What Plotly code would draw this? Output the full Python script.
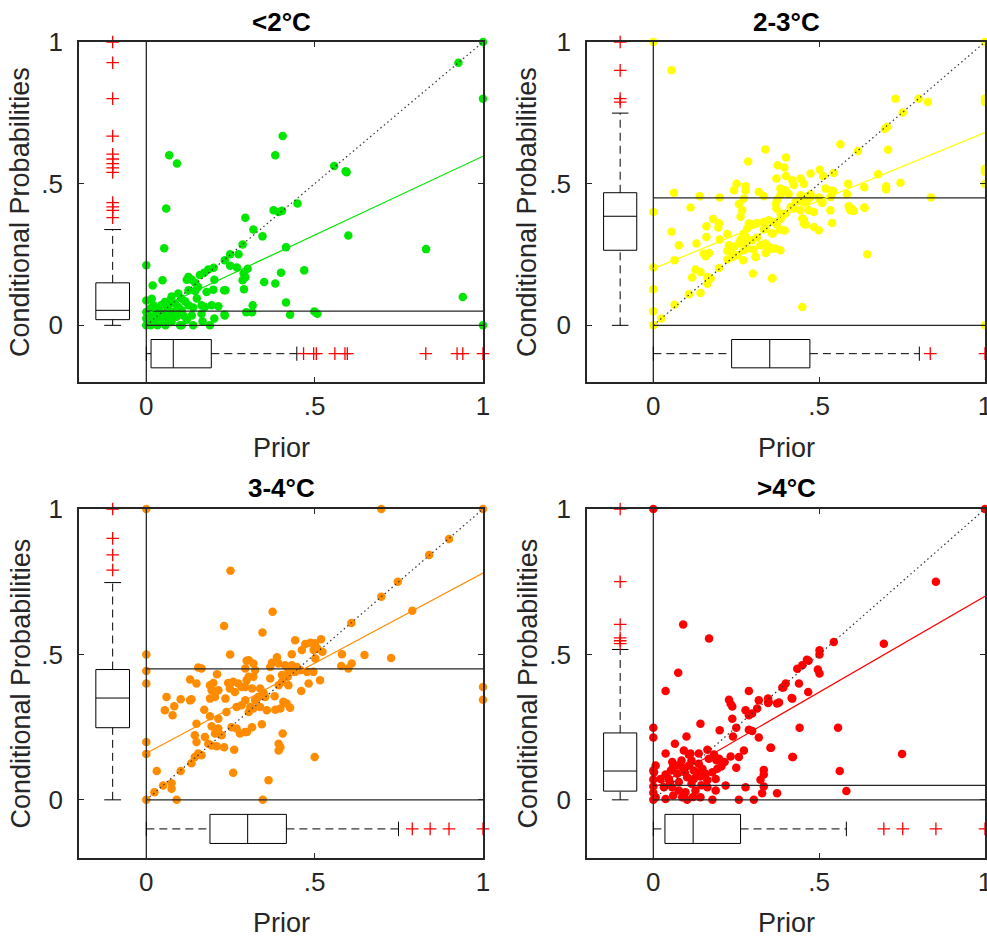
import plotly.graph_objects as go

# ---------------- data ----------------
TITLES = ['<2°C', '2-3°C', '3-4°C', '>4°C']
COLORS = ['#00e600', '#ffff00', '#ff8c00', '#ff0000']
X_LABEL = 'Prior'
Y_LABEL = 'Conditional Probabilities'
TICK_VALS = [0, 0.5, 1]
TICK_TEXT = ['0', '.5', '1']

# (prior, conditional probability) pairs
P1_PTS = [
    (1.0, 1.0), (0.927, 0.927), (1.0, 0.80), (1.0, 0.0),
    (0.405, 0.668), (0.383, 0.60), (0.068, 0.60), (0.091, 0.571), (0.558, 0.562), (0.592, 0.544), (0.595, 0.54),
    (0.449, 0.43), (0.378, 0.406), (0.393, 0.40), (0.403, 0.404), (0.059, 0.412),
    (0.294, 0.38), (0.318, 0.338), (0.345, 0.314), (0.60, 0.317), (0.415, 0.276), (0.831, 0.269), (0.053, 0.272), (0.286, 0.285),
    (0.249, 0.251), (0.274, 0.251), (0.233, 0.23), (0.249, 0.21), (0.269, 0.204), (0.301, 0.2), (0.469, 0.194), (0.40, 0.186),
    (0.289, 0.183), (0.294, 0.17), (0.286, 0.159), (0.94, 0.10),
    (0.2, 0.203), (0.184, 0.197), (0.172, 0.186), (0.159, 0.178), (0.125, 0.171), (0.135, 0.161), (0.12, 0.161), (0.145, 0.15), (0.202, 0.161),
    (0.35, 0.153), (0.383, 0.148), (0.019, 0.141), (0.048, 0.159), (0.0, 0.212),
    (0.231, 0.124), (0.29, 0.127), (0.235, 0.124), (0.154, 0.135), (0.125, 0.124), (0.145, 0.121), (0.179, 0.118), (0.199, 0.126),
    (0.095, 0.112), (0.075, 0.102), (0.105, 0.094), (0.055, 0.082), (0.07, 0.088), (0.085, 0.077),
    (0.0, 0.088), (0.016, 0.094), (0.021, 0.071), (0.044, 0.071), (0.031, 0.059), (0.011, 0.059), (0.0, 0.047),
    (0.125, 0.071), (0.139, 0.063), (0.164, 0.071), (0.174, 0.065), (0.194, 0.071), (0.214, 0.067), (0.164, 0.041),
    (0.105, 0.053), (0.075, 0.041), (0.055, 0.035), (0.036, 0.032), (0.016, 0.029), (0.0, 0.024),
    (0.006, 0.012), (0.026, 0.012), (0.05, 0.012), (0.075, 0.012),
    (0.105, 0.0), (0.139, 0.0), (0.189, 0.0), (0.202, 0.024), (0.233, 0.035), (0.135, 0.035),
    (0.0, 0.0), (0.013, 0.0), (0.033, 0.0), (0.057, 0.0),
    (0.415, 0.081), (0.316, 0.071), (0.297, 0.046), (0.314, 0.046), (0.427, 0.037), (0.499, 0.049), (0.508, 0.041),
    (0.232, 0.038), (0.167, 0.014), (0.10, 0.0),
    (0.09, 0.03), (0.12, 0.02), (0.045, 0.02), (0.065, 0.06), (0.095, 0.065), (0.115, 0.085), (0.15, 0.095),
    (0.03, 0.045), (0.06, 0.025), (0.085, 0.05), (0.11, 0.035), (0.02, 0.005), (0.04, 0.05),
]

P2_PTS = [
    (0, 1), (1, 1), (0.055, 0.90), (0.73, 0.80), (0.80, 0.80), (0.828, 0.788), (1, 0.80), (1, 0.788), (0.752, 0.751),
    (0.698, 0.694), (0.705, 0.70), (0.708, 0.62), (0.617, 0.615), (0.564, 0.639), (0.338, 0.621), (0.40, 0.592),
    (0.286, 0.578), (0.375, 0.565), (0.395, 0.557), (0.544, 0.538), (0.678, 0.533), (1, 0.553), (1, 0.541), (1, 0.50),
    (0.502, 0.549), (0.512, 0.527), (0.474, 0.536), (0.371, 0.518), (0.40, 0.527), (0.419, 0.512), (0.444, 0.518),
    (0.454, 0.50), (0.424, 0.495), (0.251, 0.50), (0.278, 0.491), (0.243, 0.477), (0.278, 0.477), (0.062, 0.468),
    (0.14, 0.456), (0.20, 0.451), (0.318, 0.471), (0.333, 0.456), (0.273, 0.448), (0.587, 0.50), (0.636, 0.487),
    (0.584, 0.463), (0.702, 0.491), (0.702, 0.48), (0.745, 0.503), (0.837, 0.451), (0.519, 0.483), (0.539, 0.475),
    (0.534, 0.453), (0.509, 0.432), (0.383, 0.483), (0.398, 0.477), (0.408, 0.463), (0.383, 0.459), (0.373, 0.442),
    (0.444, 0.459), (0.464, 0.456), (0.474, 0.463), (0.499, 0.451), (0.429, 0.436), (0.449, 0.436), (0.464, 0.442),
    (0.414, 0.418), (0.424, 0.412), (0.444, 0.406), (0.469, 0.406), (0.484, 0.40), (0.449, 0.377), (0.454, 0.359),
    (0.534, 0.406), (0.539, 0.361), (0.589, 0.42), (0.594, 0.406), (0.604, 0.404), (0.636, 0.416), (0.484, 0.347),
    (0.499, 0.336), (0.645, 0.251), (0.112, 0.416), (0, 0.40), (0.258, 0.428), (0.268, 0.406), (0.263, 0.383),
    (0.37, 0.429), (0.371, 0.412), (0.384, 0.394), (0.398, 0.394), (0.18, 0.375), (0.198, 0.36), (0.196, 0.345),
    (0.16, 0.35), (0.055, 0.33), (0.16, 0.312), (0.20, 0.303), (0.223, 0.322), (0.077, 0.283), (0.13, 0.289),
    (0.152, 0.253), (0.168, 0.255), (0.158, 0.244), (0.064, 0.23), (0, 0.204), (0.198, 0.202), (0.127, 0.197),
    (0.142, 0.188), (0.117, 0.169), (0.163, 0.171), (0.173, 0.165), (0.163, 0.147), (0.223, 0.232), (0.238, 0.241),
    (0.253, 0.247), (0.271, 0.23), (0.30, 0.183), (0.107, 0.11), (0.142, 0.114), (0.064, 0.073), (0, 0.127),
    (0, 0.05), (0.024, 0.024), (0, 0), (1, 0), (0.358, 0.324), (0.339, 0.342), (0.358, 0.365), (0.228, 0.283),
    (0.243, 0.277), (0.258, 0.289), (0.278, 0.291), (0.298, 0.30), (0.313, 0.31), (0.323, 0.283), (0.338, 0.289),
    (0.348, 0.277), (0.223, 0.263), (0.243, 0.247), (0.273, 0.265), (0.283, 0.271), (0.303, 0.267), (0.308, 0.241),
    (0.339, 0.255), (0.358, 0.271), (0.273, 0.324), (0.283, 0.342), (0.278, 0.312), (0.263, 0.303), (0.358, 0.165),
    (0.368, 0.271), (0.383, 0.265), (0.449, 0.065), (0.288, 0.359), (0.303, 0.356), (0.313, 0.361), (0.333, 0.365),
    (0.348, 0.371), (0.372, 0.356), (0.384, 0.376), (0.333, 0.338), (0.36, 0.324), (0.382, 0.338), (0.396, 0.335),
    (0.459, 0.356), (0.454, 0.373), (0.535, 0.455), (0.542, 0.474), (0.51, 0.435), (0.474, 0.453), (0.46, 0.435),
    (0.637, 0.415), (0.597, 0.412), (0.341, 0.259), (0.309, 0.241), (0.359, 0.167),
]

P3_PTS = [
    (0, 1), (0.698, 1), (1, 1), (0.899, 0.897), (0.84, 0.842), (0.747, 0.75), (0.698, 0.698), (0.79, 0.65),
    (0.609, 0.608), (0.25, 0.788), (0.375, 0.647), (0.231, 0.598), (0.345, 0.575), (0.249, 0.50), (0, 0.50),
    (0, 0.443), (0, 0.40), (0.442, 0.549), (0.472, 0.536), (0.487, 0.54), (0.501, 0.538), (0.519, 0.552),
    (0.497, 0.515), (0.507, 0.521), (0.462, 0.515), (0.432, 0.501), (0.523, 0.509), (0.502, 0.486), (0.581, 0.501),
    (0.61, 0.469), (0.60, 0.452), (0.648, 0.498), (0.579, 0.46), (0.727, 0.488), (0.388, 0.49), (0.373, 0.471),
    (0.368, 0.457), (0.393, 0.469), (0.304, 0.48), (0.318, 0.469), (0.294, 0.452), (0.323, 0.446), (0.304, 0.423),
    (0.318, 0.423), (0.412, 0.463), (0.432, 0.463), (0.447, 0.457), (0.422, 0.446), (0.442, 0.44), (0.457, 0.446),
    (0.477, 0.44), (0.496, 0.44), (0.368, 0.417), (0.403, 0.429), (0.42, 0.423), (0.422, 0.394), (0.403, 0.406),
    (0.482, 0.40), (0.516, 0.411), (0.46, 0.374), (0.294, 0.388), (0.314, 0.383), (0.338, 0.383), (0.348, 0.368),
    (0.333, 0.354), (0.323, 0.342), (0.353, 0.354), (0.381, 0.356), (0.393, 0.394), (0.294, 0.342), (0.309, 0.319),
    (0.318, 0.314), (0.304, 0.302), (0.338, 0.319), (0.358, 0.308), (0.383, 0.31), (0.398, 0.314), (0.407, 0.337),
    (0.417, 0.331), (0.427, 0.317), (0.314, 0.25), (0.299, 0.233), (0.343, 0.26), (0.405, 0.228), (0.393, 0.193),
    (0.398, 0.181), (0.393, 0.17), (0.50, 0.147), (0.363, 0.067), (0.346, 0), (1, 0.388), (1, 0.344),
    (0.298, 0.478), (0.154, 0.455), (0.164, 0.452), (0.21, 0.432), (0.13, 0.414), (0.149, 0.40), (0.189, 0.394),
    (0.199, 0.402), (0.194, 0.377), (0.214, 0.377), (0.189, 0.348), (0.204, 0.354), (0.243, 0.402), (0.258, 0.406),
    (0.273, 0.40), (0.283, 0.388), (0.298, 0.411), (0.248, 0.383), (0.263, 0.371), (0.235, 0.348), (0.06, 0.354),
    (0.102, 0.346), (0.13, 0.342), (0.134, 0.346), (0.055, 0.308), (0.083, 0.322), (0.078, 0.291), (0.172, 0.31),
    (0.189, 0.287), (0.214, 0.279), (0.238, 0.302), (0.268, 0.319), (0.283, 0.325), (0.149, 0.262), (0.194, 0.253),
    (0.204, 0.228), (0.224, 0.222), (0.214, 0.245), (0.253, 0.25), (0.268, 0.245), (0.278, 0.228), (0.293, 0.233),
    (0.144, 0.222), (0.149, 0.199), (0.174, 0.216), (0.184, 0.193), (0.194, 0.187), (0.209, 0.184), (0.231, 0.181),
    (0.261, 0.172), (0, 0.199), (0, 0.158), (0.154, 0.159), (0.164, 0.153), (0.144, 0.147), (0.134, 0.126),
    (0.031, 0.099), (0.102, 0.099), (0.075, 0.057), (0.075, 0.038), (0.05, 0.049), (0.024, 0.026), (0, 0),
    (0.09, 0), (0.258, 0.093),
]

P4_PTS = [
    (0, 1), (1, 1), (0.852, 0.75), (0.09, 0.603), (0.168, 0.555), (0.544, 0.543), (0.695, 0.537), (0.501, 0.514),
    (0.501, 0.50), (0.463, 0.482), (0.468, 0.478), (0.496, 0.448), (0.501, 0.434), (0.434, 0.451), (0.075, 0.437),
    (0.399, 0.40), (0.392, 0.386), (0.439, 0.40), (0.467, 0.371), (0.037, 0.374), (0.288, 0.374), (0.228, 0.344),
    (0.233, 0.33), (0.238, 0.321), (0.346, 0.348), (0.346, 0.333), (0.379, 0.335), (0.417, 0.35), (0.278, 0.308),
    (0.288, 0.291), (0.298, 0.297), (0.313, 0.314), (0.318, 0.342), (0.348, 0.336), (0.373, 0.331), (0.389, 0.386),
    (0.419, 0.348), (0.449, 0.463), (0.238, 0.279), (0.25, 0.248), (0.24, 0.218), (0.2, 0.239), (0.288, 0.241),
    (0.298, 0.237), (0.318, 0.214), (0.353, 0.179), (0.419, 0.147), (0.441, 0.248), (0.557, 0.248), (0.233, 0.149),
    (0.258, 0.147), (0.273, 0.17), (0.25, 0.11), (0.333, 0.103), (0.333, 0.087), (0.323, 0.069), (0.142, 0.262),
    (0.1, 0.218), (0.065, 0.193), (0.037, 0.159), (0.092, 0.17), (0.107, 0.156), (0.112, 0.159), (0.137, 0.159),
    (0.163, 0.172), (0.167, 0.141), (0.183, 0.156), (0.19, 0.136), (0.198, 0.141), (0.057, 0.13), (0.072, 0.118),
    (0.087, 0.112), (0.053, 0.101), (0.072, 0.09), (0.037, 0.087), (0.107, 0.118), (0.122, 0.101), (0.137, 0.124),
    (0.148, 0.107), (0.158, 0.09), (0.178, 0.095), (0.193, 0.107), (0.188, 0.072), (0.007, 0.118), (0.002, 0.095),
    (0.022, 0.072), (0.047, 0.072), (0.077, 0.061), (0.102, 0.078), (0.122, 0.072), (0.142, 0.08), (0.163, 0.067),
    (0.032, 0.043), (0.057, 0.043), (0.077, 0.032), (0.097, 0.026), (0.127, 0.032), (0.163, 0.043), (0.188, 0.032),
    (0.218, 0.049), (0.278, 0.043), (0.333, 0.046), (0.007, 0.009), (0.037, 0.003), (0.087, 0.009), (0.102, 0),
    (0.142, 0.009), (0.178, 0), (0.258, 0), (0.303, 0), (0.373, 0.023), (0, 0.248), (0, 0.214), (0, 0.101),
    (0, 0.07), (0, 0.046), (0, 0.024), (0, 0), (0.75, 0.158), (0.562, 0.099), (0.582, 0.03), (0.421, 0.147),
    (0.355, 0.179), (0.328, 0.023),
    (0.06, 0.115), (0.085, 0.135), (0.115, 0.135), (0.13, 0.095), (0.095, 0.095), (0.05, 0.06), (0.115, 0.055),
    (0.145, 0.05), (0.06, 0.015), (0.12, 0.01), (0.205, 0.115), (0.215, 0.13),
]
PANEL_PTS = [P1_PTS, P2_PTS, P3_PTS, P4_PTS]

THRESHOLD = [0.05, 0.45, 0.45, 0.05]
FIT_INTERCEPT = [0.04, 0.20, 0.16, 0.04]
FIT_SLOPE = [0.557, 0.48, 0.62, 0.66]

# box statistics: [lower whisker, q1, median, q3, upper whisker]
COND_STATS = [[0, 0.02, 0.053, 0.15, 0.338],
              [0, 0.265, 0.385, 0.468, 0.749],
              [0, 0.248, 0.35, 0.448, 0.747],
              [0, 0.03, 0.099, 0.23, 0.517]]
COND_OUTLIERS = [[1.0, 0.927, 0.80, 0.668, 0.604, 0.587, 0.571, 0.556, 0.54, 0.433, 0.418, 0.406, 0.38],
                 [1.0, 0.90, 0.80, 0.788],
                 [1.0, 0.899, 0.842, 0.79],
                 [1.0, 0.75, 0.603, 0.557, 0.547, 0.537]]
PRIOR_STATS = [[0, 0.014, 0.08, 0.193, 0.447],
               [0, 0.236, 0.351, 0.472, 0.802],
               [0, 0.189, 0.301, 0.416, 0.749],
               [0, 0.035, 0.12, 0.263, 0.582]]
PRIOR_OUTLIERS = [[0.467, 0.497, 0.505, 0.56, 0.59, 0.597, 0.83, 0.923, 0.94, 1.0],
                  [0.835, 1.0],
                  [0.79, 0.843, 0.899, 1.0],
                  [0.695, 0.752, 0.852, 1.0]]

# ---------------- style / layout ----------------
W, H = 987, 941
AX = '#262626'
FONT = 'Arial, Liberation Sans, sans-serif'
BOX_POS = -0.1
BOX_HALF = 0.05
CAP_HALF = 0.025
RANGE = [-0.2, 1.0]

X_DOM = [[79 / W, 483 / W], [587 / W, 985 / W]]
Y_DOM = [[1 - 382 / H, 1 - 42 / H], [1 - 858 / H, 1 - 509 / H]]
TITLE_Y = [1 - 22 / H, 1 - 488 / H]
XLAB_Y = [1 - 448 / H, 1 - 923 / H]
YLAB_X = [20 / W, 527 / W]

fig = go.Figure()
annotations = []


def line(xs, ys, xa, ya, color, width=1.0, dash='solid'):
    fig.add_trace(go.Scatter(x=xs, y=ys, xaxis=xa, yaxis=ya, mode='lines',
                             line=dict(color=color, width=width, dash=dash),
                             hoverinfo='skip', showlegend=False, cliponaxis=False))


def outliers(xs, ys, xa, ya):
    fig.add_trace(go.Scatter(x=xs, y=ys, xaxis=xa, yaxis=ya, mode='markers',
                             showlegend=False, cliponaxis=False,
                             marker=dict(symbol='cross-thin-open', size=9, color='#ff0000',
                                         line=dict(color='#ff0000', width=1.3))))


for i in range(4):
    r, c = divmod(i, 2)
    sfx = '' if i == 0 else str(i + 1)
    xa, ya = 'x' + sfx, 'y' + sfx
    pts = PANEL_PTS[i]
    px = [p[0] for p in pts]
    py = [p[1] for p in pts]

    # scatter points
    fig.add_trace(go.Scatter(x=px, y=py, xaxis=xa, yaxis=ya, mode='markers',
                             marker=dict(color=COLORS[i], size=8.5, line=dict(width=0)),
                             showlegend=False, cliponaxis=False))

    # reference lines
    line([0, 0], RANGE, xa, ya, AX, 1.3)
    line([0, 1], [0, 0], xa, ya, AX, 1.3)
    line([0, 1], [THRESHOLD[i], THRESHOLD[i]], xa, ya, AX, 1.3)
    line([0, 1], [0, 1], xa, ya, '#333333', 1.2, '1.5px,3px')
    line([0, 1], [FIT_INTERCEPT[i], FIT_INTERCEPT[i] + FIT_SLOPE[i]], xa, ya, COLORS[i], 1.2)

    # vertical box (conditional probabilities)
    lo, q1, md, q3, hi = COND_STATS[i]
    b0, b1 = BOX_POS - BOX_HALF, BOX_POS + BOX_HALF
    line([b0, b1, b1, b0, b0], [q1, q1, q3, q3, q1], xa, ya, '#000000')
    line([b0, b1], [md, md], xa, ya, '#000000')
    line([BOX_POS, BOX_POS], [q3, hi], xa, ya, '#000000', 1, '8px,5px')
    line([BOX_POS, BOX_POS], [lo, q1], xa, ya, '#000000', 1, '8px,5px')
    line([BOX_POS - CAP_HALF, BOX_POS + CAP_HALF], [hi, hi], xa, ya, '#000000')
    line([BOX_POS - CAP_HALF, BOX_POS + CAP_HALF], [lo, lo], xa, ya, '#000000')
    outliers([BOX_POS] * len(COND_OUTLIERS[i]), COND_OUTLIERS[i], xa, ya)

    # horizontal box (prior)
    lo, q1, md, q3, hi = PRIOR_STATS[i]
    line([q1, q3, q3, q1, q1], [b0, b0, b1, b1, b0], xa, ya, '#000000')
    line([md, md], [b0, b1], xa, ya, '#000000')
    line([q3, hi], [BOX_POS, BOX_POS], xa, ya, '#000000', 1, '8px,5px')
    line([lo, q1], [BOX_POS, BOX_POS], xa, ya, '#000000', 1, '8px,5px')
    line([hi, hi], [BOX_POS - CAP_HALF, BOX_POS + CAP_HALF], xa, ya, '#000000')
    line([lo, lo], [BOX_POS - CAP_HALF, BOX_POS + CAP_HALF], xa, ya, '#000000')
    outliers(PRIOR_OUTLIERS[i], [BOX_POS] * len(PRIOR_OUTLIERS[i]), xa, ya)

    common = dict(range=RANGE, tickvals=TICK_VALS, ticktext=TICK_TEXT, ticks='inside', ticklen=5,
                  tickcolor=AX, tickwidth=1.3, showline=True, linecolor=AX, linewidth=1.6, mirror='ticks',
                  showgrid=False, zeroline=False, fixedrange=True, automargin=False,
                  ticklabeloverflow='allow',
                  tickfont=dict(family=FONT, size=26, color=AX))
    fig.update_layout(**{
        'xaxis' + sfx: dict(domain=X_DOM[c], anchor=ya, ticklabelstandoff=0, **common),
        'yaxis' + sfx: dict(domain=Y_DOM[r], anchor=xa, ticklabelstandoff=9, **common),
    })

    xmid = (X_DOM[c][0] + X_DOM[c][1]) / 2
    ymid = (Y_DOM[r][0] + Y_DOM[r][1]) / 2
    annotations.append(dict(text='<b>' + TITLES[i] + '</b>', x=xmid, y=TITLE_Y[r], xref='paper', yref='paper',
                            showarrow=False, xanchor='center', yanchor='middle',
                            font=dict(family=FONT, size=26, color='#000000')))
    annotations.append(dict(text=X_LABEL, x=xmid, y=XLAB_Y[r], xref='paper', yref='paper',
                            showarrow=False, xanchor='center', yanchor='middle',
                            font=dict(family=FONT, size=27, color=AX)))
    annotations.append(dict(text=Y_LABEL, x=YLAB_X[c], y=ymid, xref='paper', yref='paper', textangle=-90,
                            showarrow=False, xanchor='center', yanchor='middle',
                            font=dict(family=FONT, size=27, color=AX)))

fig.update_layout(width=W, height=H, autosize=False,
                  margin=dict(l=0, r=0, t=0, b=0, pad=0, autoexpand=False),
                  plot_bgcolor='white', paper_bgcolor='white',
                  annotations=annotations, showlegend=False)

fig.write_html('out.html')
